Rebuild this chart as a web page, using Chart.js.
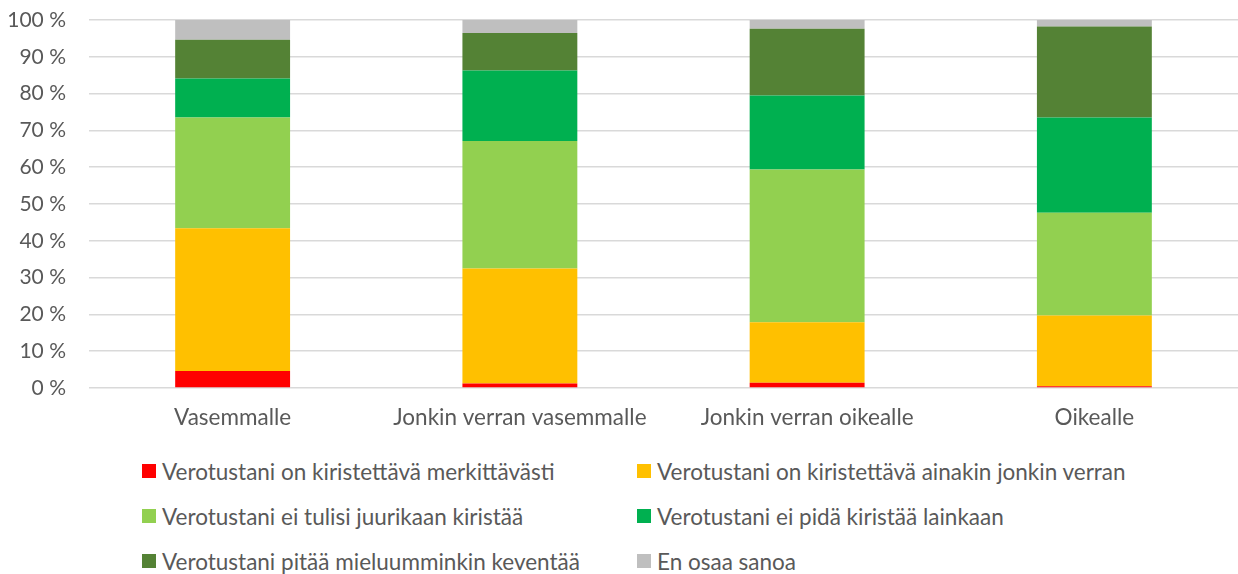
<!DOCTYPE html>
<html>
<head>
<meta charset="utf-8">
<script src="https://cdn.jsdelivr.net/npm/chart.js@4"></script>
<style>
    html, body { margin: 0; padding: 0; background: #ffffff; }
    #wrap { position: relative; width: 1238px; height: 574px; font-family: Lato, "Noto Sans", sans-serif; }
    #chartBox { position: absolute; left: 0; top: 0; width: 1238px; height: 440px; }
    #legend { position: absolute; left: 142px; top: 455px; display: grid; grid-template-columns: 495px 500px; row-gap: 13px; }
    .item { display: flex; align-items: center; height: 32px; color: #595959; font-size: 22.5px; white-space: nowrap; }
    .box { width: 14px; height: 14px; margin-right: 6px; flex: none; }
</style>
</head>
<body>
<div id="wrap">
    <div id="chartBox"><canvas id="chart"></canvas></div>
    <div id="legend"></div>
</div>
<script>
// categories (x axis)
const categories = ["Vasemmalle", "Jonkin verran vasemmalle", "Jonkin verran oikealle", "Oikealle"];

// series, % of answers per category
const merkittavasti = [4.6, 1.2, 1.4, 0.5];
const jonkinVerran = [38.8, 31.3, 16.5, 19.2];
const eiJuurikaan = [30.1, 34.6, 41.5, 27.9];
const eiLainkaan = [10.6, 19.2, 20.1, 25.9];
const keventaa = [10.5, 10.2, 18.1, 24.7];
const enOsaa = [5.4, 3.5, 2.4, 1.8];

const seriesLabels = [
    "Verotustani on kiristettävä merkittävästi",
    "Verotustani on kiristettävä ainakin jonkin verran",
    "Verotustani ei tulisi juurikaan kiristää",
    "Verotustani ei pidä kiristää lainkaan",
    "Verotustani pitää mieluumminkin keventää",
    "En osaa sanoa"
];
const seriesColors = ["#FF0000", "#FFC000", "#92D050", "#00B050", "#548235", "#BFBFBF"];
const seriesValues = [merkittavasti, jonkinVerran, eiJuurikaan, eiLainkaan, keventaa, enOsaa];

// y axis ticks
const yTicks = [0, 10, 20, 30, 40, 50, 60, 70, 80, 90, 100];

const textColor = "#595959";
const fontFamily = "Lato, 'Noto Sans', sans-serif";

const datasets = seriesLabels.map((label, i) => ({
    label: label,
    data: seriesValues[i],
    backgroundColor: seriesColors[i],
    borderWidth: 0,
    barPercentage: 0.4,
    categoryPercentage: 1.0
}));

const chart = new Chart(document.getElementById("chart"), {
    type: "bar",
    data: { labels: categories, datasets: datasets },
    options: {
        responsive: true,
        maintainAspectRatio: false,
        animation: false,
        layout: { padding: { top: 20, right: 0, left: 0, bottom: 0 } },
        plugins: {
            legend: { display: false },
            tooltip: { enabled: false }
        },
        scales: {
            x: {
                stacked: true,
                grid: { display: false, drawTicks: false },
                border: { display: false },
                ticks: { color: textColor, font: { family: fontFamily, size: 22.5 }, padding: 16 },
                afterFit: (scale) => { scale.height = 52; }
            },
            y: {
                stacked: true,
                min: 0,
                max: 100,
                afterBuildTicks: (scale) => { scale.ticks = yTicks.map(v => ({ value: v })); },
                grid: { color: "#D9D9D9", lineWidth: 1.5, drawTicks: false },
                border: { display: false },
                ticks: {
                    color: textColor,
                    font: { family: fontFamily, size: 21 },
                    padding: 23,
                    callback: (v) => v + " %"
                },
                // keep plot area fixed: left edge at 89px, top at 20px
                afterFit: (scale) => { scale.width = 89; scale.paddingTop = 0; scale.paddingBottom = 0; }
            }
        }
    }
});

// legend in two columns, built from the chart's datasets
const legendEl = document.getElementById("legend");
chart.data.datasets.forEach(ds => {
    const item = document.createElement("div");
    item.className = "item";
    const box = document.createElement("span");
    box.className = "box";
    box.style.background = ds.backgroundColor;
    const txt = document.createElement("span");
    txt.textContent = ds.label;
    item.appendChild(box);
    item.appendChild(txt);
    legendEl.appendChild(item);
});
</script>
</body>
</html>
